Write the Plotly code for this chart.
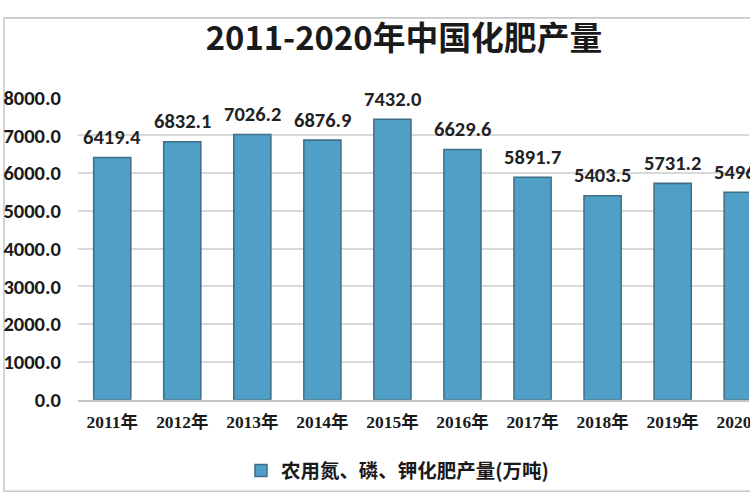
import plotly.graph_objects as go

# Data
years = ["2011年", "2012年", "2013年", "2014年", "2015年",
         "2016年", "2017年", "2018年", "2019年", "2020年"]
output_wt = [6419.4, 6832.1, 7026.2, 6876.9, 7432.0,
             6629.6, 5891.7, 5403.5, 5731.2, 5496.0]
series_name = "农用氮、磷、钾化肥产量(万吨)"
title_text = "2011-2020年中国化肥产量"

# the shot comes back ~2.5% smaller than the page, so draw the page that much bigger
REF_W, REF_H = 750, 500
K = 769 / REF_W
W, H = round(REF_W * K), round(REF_H * K)
cjk = "Noto Sans CJK SC"
narrow = "Carlito, Liberation Sans Narrow, Liberation Sans, " + cjk


def px_x(x):
    return x / REF_W


def px_y(y):
    return 1 - y / REF_H


def sz(v):
    return v * K


fig = go.Figure()
fig.add_trace(go.Bar(
    x=years,
    y=output_wt,
    name=series_name,
    width=0.53,
    marker=dict(color="#4f9fc6", line=dict(color="#3f6f86", width=sz(1.5))),
    cliponaxis=True,
    showlegend=True,
))

# value labels sit ~20px above each bar top
for yr, v in zip(years, output_wt):
    fig.add_annotation(x=yr, y=v, text=f"{v:.1f}", showarrow=False,
                       yanchor="middle", yshift=sz(20),
                       font=dict(family=narrow, size=sz(20), color="#222222", weight="bold"))

fig.update_layout(
    width=W, height=H,
    margin=dict(l=0, r=0, t=0, b=0),
    paper_bgcolor="white",
    plot_bgcolor="white",
    title=dict(text="<b>" + title_text + "</b>", x=px_x(394), xanchor="center",
               y=px_y(38), yanchor="middle",
               font=dict(family=cjk, size=sz(32), color="#1a1a1a")),
    xaxis=dict(domain=[px_x(78), 1], range=[-0.49, 9.09],
               tickfont=dict(family="Liberation Serif, " + cjk, size=sz(17), color="#1a1a1a", weight="bold"),
               showline=True, linecolor="#c4c4c4", linewidth=sz(1.5),
               ticks="", ticklabelstandoff=round(sz(6)), fixedrange=True),
    yaxis=dict(domain=[px_y(397), px_y(87)], range=[0, 8000], dtick=1000,
               tickformat=".1f",
               tickfont=dict(family=narrow, size=sz(20), color="#1a1a1a", weight="bold"),
               showgrid=True, gridcolor="#d9d9d9", gridwidth=sz(1.5),
               zeroline=False, showline=False, ticks="", ticklabelstandoff=round(sz(16))),
    legend=dict(orientation="h", x=px_x(398), xanchor="center", y=px_y(470), yanchor="middle",
                font=dict(family=cjk, size=sz(19), color="#1a1a1a", weight="bold"),
                itemwidth=30),
    shapes=[dict(type="rect", xref="paper", yref="paper",
                 x0=px_x(4), x1=1.1, y0=px_y(491), y1=px_y(5),
                 line=dict(color="#c8c8c8", width=sz(1.5)), layer="below")],
)

# no page margin, and clip anything (the cut 2020 labels) that spills past the figure
page_js = ("document.body.style.margin='0';"
           "document.body.style.overflow='hidden';"
           "document.documentElement.style.overflow='hidden';"
           "document.querySelectorAll('.plotly-graph-div, .svg-container, .main-svg')"
           ".forEach(function(e){e.style.overflow='hidden';});")
fig.write_html("out.html", config={"responsive": False, "displayModeBar": False},
               post_script=page_js)
